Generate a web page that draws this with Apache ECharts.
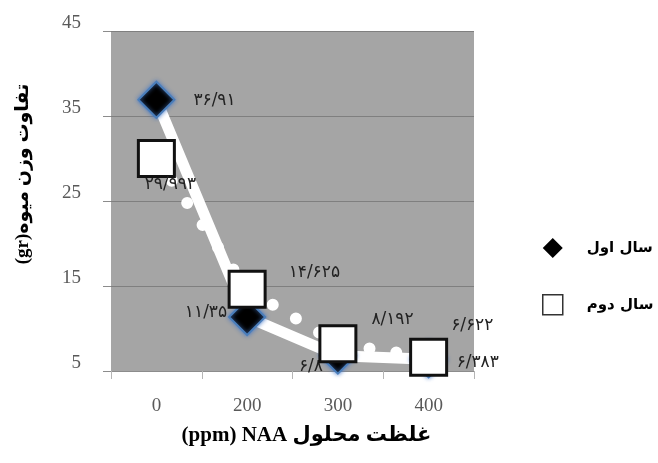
<!DOCTYPE html>
<html><head><meta charset="utf-8">
<script src="https://cdn.jsdelivr.net/npm/echarts@6/dist/echarts.min.js"></script>
<style>html,body{margin:0;padding:0;background:#fff}#c{width:658px;height:463px}</style>
</head><body><div id="c"></div>
<script>
// ---- data ----
const categories = ['0', '200', '300', '400'];
const year1 = [36.91, 11.35, 6.8, 6.383];
const year2 = [29.993, 14.625, 8.192, 6.622];
const seriesNames = ['سال اول', 'سال دوم'];
const yMin = 5, yMax = 45, yInterval = 10;
const xAxisTitle = '(ppm) NAA غلظت محلول';
const yAxisTitle = '(gr)تفاوت وزن میوه';

// ---- helpers ----
const faDigits = '۰۱۲۳۴۵۶۷۸۹';
function toFa(v) { return String(v).replace('.', '/').replace(/[0-9]/g, d => faDigits[+d]); }
const serif = "'Liberation Serif','DejaVu Serif',serif";
const faFont = "'DejaVu Sans','Liberation Serif',sans-serif";
const mixFont = "'Liberation Serif','DejaVu Sans',serif";

const labelCfg1 = [
  {position: 'right', distance: 18, offset: [0, 1]},
  {position: 'left', distance: 1, offset: [0, -4]},
  {position: 'left', distance: -4, offset: [0, 11]},
  {position: 'right', distance: 9, offset: [0, 3]}
];
const labelCfg2 = [
  {position: 'bottom', distance: 0, offset: [14, -2]},
  {position: 'right', distance: 22, offset: [0, -17]},
  {position: 'right', distance: 14, offset: [0, -24]},
  {position: 'right', distance: 3, offset: [0, -32]}
];
const labelBase = {show: true, fontSize: 17, color: '#222', fontFamily: faFont, formatter: p => toFa(p.value)};

const chart = echarts.init(document.getElementById('c'));
chart.setOption({
  animation: false,
  backgroundColor: '#fff',
  grid: {left: 111, right: 184, top: 31, bottom: 92, show: true, backgroundColor: '#a5a5a5', borderWidth: 0},
  legend: {
    orient: 'vertical', left: 537, top: 233, itemWidth: 20, itemHeight: 20, itemGap: 36,
    textStyle: {fontSize: 15, fontWeight: 'bold', color: '#000', fontFamily: faFont, padding: [0, 0, 0, 19]},
    data: [
      {name: seriesNames[0], icon: 'diamond', itemStyle: {color: '#000', borderWidth: 0, shadowBlur: 0}},
      {name: seriesNames[1], icon: 'rect', itemStyle: {color: '#fff', borderColor: '#333', borderWidth: 1.5}}
    ]
  },
  xAxis: {
    type: 'category', data: categories, boundaryGap: true,
    name: xAxisTitle, nameLocation: 'middle', nameGap: 54,
    nameTextStyle: {fontSize: 21, fontWeight: 'bold', color: '#000', fontFamily: mixFont, padding: [0, 0, 0, 28]},
    axisLine: {show: true, lineStyle: {color: '#8c8c8c', width: 1}},
    axisTick: {show: true, length: 8, alignWithLabel: false, lineStyle: {color: '#b5b5b5'}},
    axisLabel: {fontSize: 19, color: '#595959', fontFamily: serif, margin: 26},
    splitLine: {show: false}
  },
  yAxis: {
    type: 'value', min: yMin, max: yMax, interval: yInterval,
    name: yAxisTitle, nameLocation: 'middle', nameGap: 78, nameRotate: 90,
    nameTextStyle: {fontSize: 19, fontWeight: 'bold', color: '#000', fontFamily: mixFont, padding: [0, 0, 0, 54]},
    axisLine: {show: false},
    axisTick: {show: true, length: 8, lineStyle: {color: '#8c8c8c'}},
    axisLabel: {fontSize: 19, color: '#595959', fontFamily: serif, margin: 30, verticalAlign: 'bottom', lineHeight: 16},
    splitLine: {show: true, lineStyle: {color: '#7f7f7f', width: 1}}
  },
  series: [
    {
      name: seriesNames[0], type: 'line', z: 2,
      data: year1.map((v, i) => ({value: v, label: labelCfg1[i]})),
      symbol: 'diamond', symbolSize: 36, showSymbol: true, clip: false,
      itemStyle: {color: '#000', borderColor: '#4a7ebb', borderWidth: 2, shadowColor: 'rgba(70,120,200,0.9)', shadowBlur: 4},
      lineStyle: {color: '#fff', width: 11},
      label: labelBase,
      emphasis: {disabled: true}
    },
    {
      name: seriesNames[1], type: 'line', z: 3,
      data: year2.map((v, i) => ({value: v, label: labelCfg2[i]})),
      symbol: 'rect', symbolSize: 36, showSymbol: true, clip: false,
      itemStyle: {color: '#fff', borderColor: '#111', borderWidth: 3},
      lineStyle: {color: '#fff', width: 12, type: [0, 27], cap: 'round'},
      label: labelBase,
      emphasis: {disabled: true}
    }
  ]
});
</script>
</body></html>
